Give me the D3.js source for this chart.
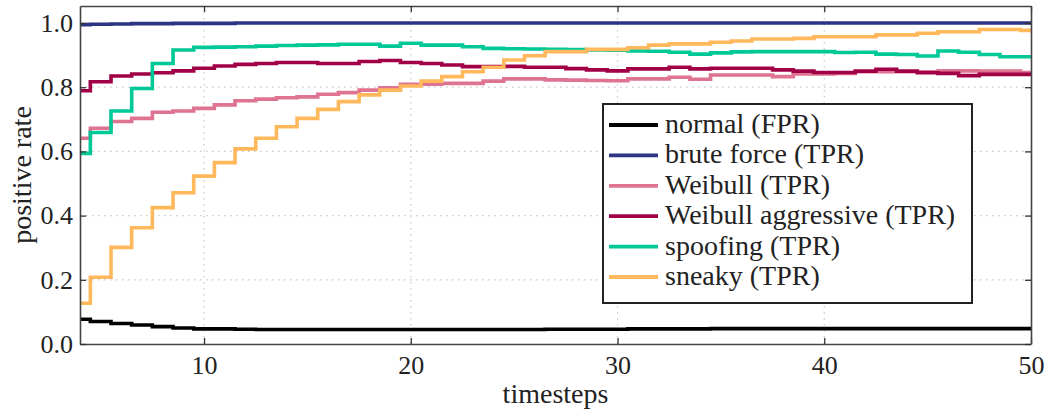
<!DOCTYPE html>
<html><head><meta charset="utf-8">
<script src="https://cdn.jsdelivr.net/npm/d3@7"></script>
<style>
html,body{margin:0;padding:0;background:#fff;}
svg{display:block;}
svg text{font-family:"Liberation Serif","DejaVu Serif",serif;fill:#222;}
</style></head>
<body>
<svg id="chart" width="1047" height="409"></svg>
<script>
const timesteps = [4,5,6,7,8,9,10,11,12,13,14,15,16,17,18,19,20,21,22,23,24,25,26,27,28,29,30,31,32,33,34,35,36,37,38,39,40,41,42,43,44,45,46,47,48,49,50];

const normalFPR = [0.077,0.070,0.064,0.059,0.054,0.050,0.047,0.047,0.046,0.045,0.045,0.045,0.045,0.045,0.045,0.045,0.045,0.045,0.045,0.045,0.045,0.045,0.045,0.046,0.046,0.046,0.046,0.047,0.047,0.047,0.047,0.048,0.048,0.048,0.048,0.048,0.048,0.048,0.048,0.048,0.048,0.048,0.048,0.048,0.048,0.048,0.048];
const bruteForce = [0.995,0.996,0.997,0.998,0.998,0.999,0.999,0.999,1.0,1.0,1.0,1.0,1.0,1.0,1.0,1.0,1.0,1.0,1.0,1.0,1.0,1.0,1.0,1.0,1.0,1.0,1.0,1.0,1.0,1.0,1.0,1.0,1.0,1.0,1.0,1.0,1.0,1.0,1.0,1.0,1.0,1.0,1.0,1.0,1.0,1.0,1.0];
const weibull = [0.641,0.672,0.693,0.703,0.722,0.726,0.734,0.745,0.758,0.763,0.767,0.770,0.778,0.783,0.791,0.798,0.809,0.809,0.812,0.812,0.819,0.826,0.826,0.823,0.822,0.821,0.820,0.826,0.826,0.831,0.825,0.838,0.838,0.838,0.833,0.841,0.841,0.843,0.848,0.848,0.848,0.848,0.851,0.851,0.850,0.850,0.846];
const weibullAggressive = [0.789,0.817,0.835,0.841,0.845,0.851,0.859,0.866,0.871,0.874,0.877,0.877,0.874,0.874,0.880,0.883,0.877,0.874,0.869,0.864,0.864,0.865,0.862,0.862,0.858,0.854,0.851,0.857,0.857,0.862,0.857,0.859,0.859,0.859,0.854,0.850,0.846,0.846,0.850,0.856,0.850,0.845,0.843,0.836,0.840,0.840,0.840];
const spoofing = [0.594,0.659,0.726,0.796,0.874,0.916,0.924,0.925,0.926,0.928,0.930,0.931,0.932,0.934,0.934,0.928,0.937,0.931,0.931,0.926,0.921,0.920,0.919,0.918,0.917,0.916,0.915,0.913,0.912,0.909,0.903,0.907,0.910,0.911,0.911,0.911,0.911,0.908,0.909,0.903,0.902,0.897,0.913,0.909,0.902,0.895,0.895];
const sneaky = [0.127,0.208,0.301,0.362,0.425,0.471,0.523,0.565,0.608,0.641,0.677,0.703,0.731,0.755,0.776,0.791,0.804,0.819,0.833,0.848,0.862,0.885,0.898,0.911,0.911,0.918,0.918,0.923,0.931,0.935,0.935,0.940,0.944,0.950,0.950,0.952,0.957,0.957,0.957,0.963,0.963,0.968,0.973,0.973,0.980,0.980,0.977];

const seriesNames = ["normal (FPR)","brute force (TPR)","Weibull (TPR)","Weibull aggressive (TPR)","spoofing (TPR)","sneaky (TPR)"];
const seriesValues = [normalFPR, bruteForce, weibull, weibullAggressive, spoofing, sneaky];
const seriesColors = ["#000000","#2d3484","#de7392","#a10046","#00c896","#ffb85c"];

const xTicks = [10,20,30,40,50];
const yTicks = [0.0,0.2,0.4,0.6,0.8,1.0];

const svg = d3.select("#chart");
const m = {left:80, right:1031, top:6, bottom:344};
const x = d3.scaleLinear().domain([4,50]).range([m.left, m.right]);
const y = d3.scaleLinear().domain([0,1.053]).range([m.bottom, m.top]);

// grid
const grid = svg.append("g");
grid.selectAll("line.gx").data(xTicks.filter(t=>t<50)).join("line")
  .attr("x1",d=>x(d)).attr("x2",d=>x(d)).attr("y1",m.top).attr("y2",m.bottom)
  .attr("stroke","#c8c8c8").attr("stroke-width",1.2).attr("stroke-dasharray","1.5,4.5");
grid.selectAll("line.gy").data(yTicks.filter(t=>t>0)).join("line")
  .attr("x1",m.left).attr("x2",m.right).attr("y1",d=>y(d)).attr("y2",d=>y(d))
  .attr("stroke","#c8c8c8").attr("stroke-width",1.2).attr("stroke-dasharray","1.5,4.5");

// lines
svg.append("defs").append("clipPath").attr("id","clip").append("rect")
  .attr("x",m.left).attr("y",m.top).attr("width",m.right-m.left).attr("height",m.bottom-m.top);
const line = d3.line().x((d,i)=>x(timesteps[i])).y(d=>y(d)).curve(d3.curveStep);
const lg = svg.append("g").attr("clip-path","url(#clip)");
seriesValues.forEach((vals,k)=>{
  lg.append("path").datum(vals).attr("d",line).attr("fill","none")
    .attr("stroke",seriesColors[k]).attr("stroke-width",3.6).attr("stroke-linejoin","miter");
});

// axes
const fmtY = d3.format(".1f");
const axB = svg.append("g").attr("transform",`translate(0,${m.bottom})`)
  .call(d3.axisBottom(x).tickValues(xTicks).tickSizeInner(-6).tickSizeOuter(0).tickPadding(12));
const axT = svg.append("g").attr("transform",`translate(0,${m.top})`)
  .call(d3.axisTop(x).tickValues(xTicks).tickSizeInner(-6).tickSizeOuter(0).tickFormat(""));
const axL = svg.append("g").attr("transform",`translate(${m.left},0)`)
  .call(d3.axisLeft(y).tickValues(yTicks).tickSizeInner(-6).tickSizeOuter(0).tickPadding(7).tickFormat(fmtY));
const axR = svg.append("g").attr("transform",`translate(${m.right},0)`)
  .call(d3.axisRight(y).tickValues(yTicks).tickSizeInner(-6).tickSizeOuter(0).tickFormat(""));
[axB,axT,axL,axR].forEach(a=>{
  a.attr("font-family",null);
  a.select(".domain").attr("stroke","#444").attr("stroke-width",1.6);
  a.selectAll(".tick line").attr("stroke","#333").attr("stroke-width",1.3);
  a.selectAll(".tick text").attr("font-size",26).attr("fill","#222");
});

// axis labels
svg.append("text").attr("x",(m.left+m.right)/2).attr("y",403).attr("text-anchor","middle")
  .attr("font-size",28).text("timesteps");
svg.append("text").attr("transform",`translate(31,${(m.top+m.bottom)/2}) rotate(-90)`)
  .attr("text-anchor","middle").attr("font-size",28).text("positive rate");

// legend
const leg = svg.append("g");
leg.append("rect").attr("x",603).attr("y",104).attr("width",369).attr("height",199)
  .attr("fill","#fff").attr("stroke","#222").attr("stroke-width",2);
seriesNames.forEach((n,k)=>{
  const yy = 125 + k*30.4;
  leg.append("line").attr("x1",609).attr("x2",658).attr("y1",yy).attr("y2",yy)
    .attr("stroke",seriesColors[k]).attr("stroke-width",3.8);
  leg.append("text").attr("x",665).attr("y",yy+8).attr("font-size",28).text(n);
});
</script>
</body></html>
